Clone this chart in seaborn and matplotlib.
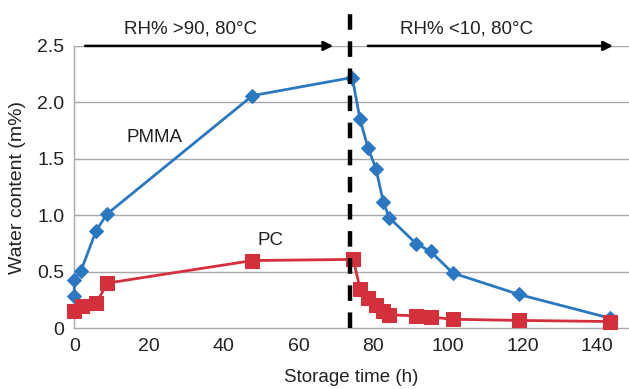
import matplotlib
matplotlib.use("Agg")
import matplotlib.pyplot as plt
import seaborn as sns
import pandas as pd

# storage time (h) and water content (m%)
pmma_time = [0, 0, 1.8, 5.8, 8.7, 47.7, 74.4, 76.5, 78.6, 80.8, 82.7, 84.3,
             91.5, 95.4, 101.3, 119, 143.4]
pmma_water = [0.29, 0.43, 0.51, 0.86, 1.01, 2.06, 2.22, 1.85, 1.60, 1.41,
              1.12, 0.98, 0.75, 0.68, 0.49, 0.30, 0.09]

pc_time = [0, 2.1, 5.9, 8.8, 47.7, 74.7, 76.5, 78.6, 80.8, 82.7, 84.3,
           91.5, 95.4, 101.3, 119, 143.4]
pc_water = [0.15, 0.20, 0.22, 0.40, 0.60, 0.61, 0.35, 0.27, 0.21, 0.15,
            0.12, 0.11, 0.10, 0.08, 0.07, 0.06]

switch_time = 73.8
x_ticks = [0, 20, 40, 60, 80, 100, 120, 140]
y_ticks = [0, 0.5, 1.0, 1.5, 2.0, 2.5]
y_ticklabels = ["0", "0.5", "1.0", "1.5", "2.0", "2.5"]

sns.set_style("white")
plt.rcParams['font.family'] = ['Liberation Sans', 'DejaVu Sans']

blue = "#2a78c2"
red = "#d3303b"
txt = "#222222"

fig = plt.figure(figsize=(6.29, 3.89), dpi=100)
ax = fig.add_axes([0.1181, 0.156, 0.8819, 0.726])

for yv in y_ticks[1:]:
    ax.axhline(yv, color="#a8a8a8", lw=1.0, zorder=0)

pmma = pd.DataFrame({"t": pmma_time, "w": pmma_water})
pc = pd.DataFrame({"t": pc_time, "w": pc_water})

sns.lineplot(data=pmma, x="t", y="w", estimator=None, sort=False, ax=ax,
             color=blue, lw=2.0, marker="D", markersize=7,
             markeredgecolor=blue, zorder=3, clip_on=False)
sns.lineplot(data=pc, x="t", y="w", estimator=None, sort=False, ax=ax,
             color=red, lw=2.0, marker="s", markersize=9.5,
             markeredgecolor=red, zorder=3, clip_on=False)

ax.axvline(switch_time, ymin=0, ymax=1.12, color="black", lw=3.2,
           ls=(0, (3.5, 2.6)), clip_on=False, zorder=4)

# condition arrows
ax.annotate("", xy=(69.3, 2.5), xytext=(2.9, 2.5),
            arrowprops=dict(arrowstyle="-|>", color="black", lw=1.8,
                            mutation_scale=14, shrinkA=0, shrinkB=0))
ax.annotate("", xy=(144.2, 2.5), xytext=(78.6, 2.5),
            arrowprops=dict(arrowstyle="-|>", color="black", lw=1.8,
                            mutation_scale=14, shrinkA=0, shrinkB=0))
ax.text(31.2, 2.57, "RH% >90, 80°C", ha="center", va="bottom", fontsize=13.5,
        color=txt)
ax.text(105, 2.57, "RH% <10, 80°C", ha="center", va="bottom", fontsize=13.5,
        color=txt)

ax.text(21.6, 1.69, "PMMA", ha="center", va="center", fontsize=13.5, color=txt)
ax.text(52.5, 0.78, "PC", ha="center", va="center", fontsize=13.5, color=txt)

ax.set_xlim(0, 148.5)
ax.set_ylim(0, 2.5)
ax.set_xticks(x_ticks)
ax.set_yticks(y_ticks)
ax.set_yticklabels(y_ticklabels)
ax.tick_params(axis="both", length=0, labelsize=14, colors=txt, pad=7)
ax.set_xlabel("Storage time (h)", fontsize=13.5, color=txt, labelpad=10)
ax.set_ylabel("Water content (m%)", fontsize=14, color=txt, labelpad=8)

for side in ["top", "right"]:
    ax.spines[side].set_visible(False)
for side in ["left", "bottom"]:
    ax.spines[side].set_color("#a8a8a8")
    ax.spines[side].set_linewidth(1.0)

fig.savefig("out.png", dpi=100)
